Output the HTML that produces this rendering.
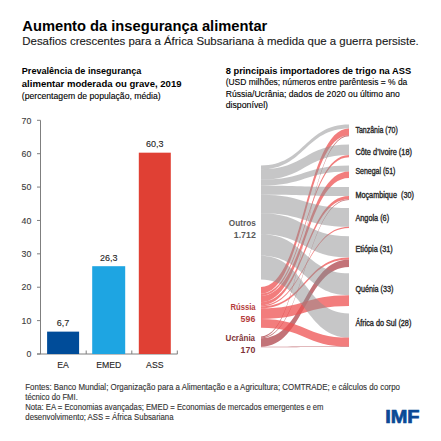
<!DOCTYPE html>
<html><head><meta charset="utf-8"><style>
html,body{margin:0;padding:0;background:#fff;width:441px;height:441px;overflow:hidden}
svg{display:block}
text{font-family:"Liberation Sans",sans-serif}
</style></head><body>
<svg width="441" height="441" viewBox="0 0 441 441">
<rect width="441" height="441" fill="#fff"/>
<text x="22.3" y="30.9" font-size="14.0" font-weight="bold" fill="#000" text-anchor="start" textLength="245" lengthAdjust="spacingAndGlyphs">Aumento da insegurança alimentar</text>
<text x="22.3" y="45.4" font-size="11.0" font-weight="normal" fill="#1a1a1a" text-anchor="start" textLength="396.5" lengthAdjust="spacingAndGlyphs" stroke="#1a1a1a" stroke-width="0.12">Desafios crescentes para a África Subsariana à medida que a guerra persiste.</text>
<text x="21.8" y="74.0" font-size="9.2" font-weight="bold" fill="#000" text-anchor="start" textLength="119.6" lengthAdjust="spacingAndGlyphs">Prevalência de insegurança</text>
<text x="21.8" y="87.2" font-size="9.2" font-weight="bold" fill="#000" text-anchor="start" textLength="159.7" lengthAdjust="spacingAndGlyphs">alimentar moderada ou grave, 2019</text>
<text x="21.8" y="99.3" font-size="8.8" font-weight="normal" fill="#000" text-anchor="start" textLength="138.9" lengthAdjust="spacingAndGlyphs" stroke="#000" stroke-width="0.12">(percentagem de população, média)</text>
<text x="225.7" y="74.0" font-size="9.2" font-weight="bold" fill="#000" text-anchor="start" textLength="185.5" lengthAdjust="spacingAndGlyphs">8 principais importadores de trigo na ASS</text>
<text x="225.7" y="85.0" font-size="8.8" font-weight="normal" fill="#000" text-anchor="start" textLength="181.6" lengthAdjust="spacingAndGlyphs" stroke="#000" stroke-width="0.12">(USD milhões; números entre parêntesis = % da</text>
<text x="225.7" y="96.8" font-size="8.8" font-weight="normal" fill="#000" text-anchor="start" textLength="174.1" lengthAdjust="spacingAndGlyphs" stroke="#000" stroke-width="0.12">Rússia/Ucrânia; dados de 2020 ou último ano</text>
<text x="225.7" y="107.6" font-size="8.8" font-weight="normal" fill="#000" text-anchor="start" textLength="42.3" lengthAdjust="spacingAndGlyphs" stroke="#000" stroke-width="0.12">disponível)</text>
<line x1="40.5" y1="120.3" x2="40.5" y2="354.0" stroke="#7f7f7f" stroke-width="1"/>
<line x1="37" y1="354.0" x2="177.5" y2="354.0" stroke="#7f7f7f" stroke-width="1"/>
<line x1="37" y1="354.00" x2="40.5" y2="354.00" stroke="#7f7f7f" stroke-width="1"/>
<text x="31.3" y="357.2" font-size="8.8" font-weight="normal" fill="#404040" text-anchor="end" stroke="#404040" stroke-width="0.12">0</text>
<line x1="37" y1="320.61" x2="40.5" y2="320.61" stroke="#7f7f7f" stroke-width="1"/>
<text x="31.3" y="323.8142857142857" font-size="8.8" font-weight="normal" fill="#404040" text-anchor="end" stroke="#404040" stroke-width="0.12">10</text>
<line x1="37" y1="287.23" x2="40.5" y2="287.23" stroke="#7f7f7f" stroke-width="1"/>
<text x="31.3" y="290.4285714285714" font-size="8.8" font-weight="normal" fill="#404040" text-anchor="end" stroke="#404040" stroke-width="0.12">20</text>
<line x1="37" y1="253.84" x2="40.5" y2="253.84" stroke="#7f7f7f" stroke-width="1"/>
<text x="31.3" y="257.04285714285714" font-size="8.8" font-weight="normal" fill="#404040" text-anchor="end" stroke="#404040" stroke-width="0.12">30</text>
<line x1="37" y1="220.46" x2="40.5" y2="220.46" stroke="#7f7f7f" stroke-width="1"/>
<text x="31.3" y="223.65714285714284" font-size="8.8" font-weight="normal" fill="#404040" text-anchor="end" stroke="#404040" stroke-width="0.12">40</text>
<line x1="37" y1="187.07" x2="40.5" y2="187.07" stroke="#7f7f7f" stroke-width="1"/>
<text x="31.3" y="190.27142857142857" font-size="8.8" font-weight="normal" fill="#404040" text-anchor="end" stroke="#404040" stroke-width="0.12">50</text>
<line x1="37" y1="153.69" x2="40.5" y2="153.69" stroke="#7f7f7f" stroke-width="1"/>
<text x="31.3" y="156.88571428571427" font-size="8.8" font-weight="normal" fill="#404040" text-anchor="end" stroke="#404040" stroke-width="0.12">60</text>
<line x1="37" y1="120.30" x2="40.5" y2="120.30" stroke="#7f7f7f" stroke-width="1"/>
<text x="31.3" y="123.50000000000001" font-size="8.8" font-weight="normal" fill="#404040" text-anchor="end" stroke="#404040" stroke-width="0.12">70</text>
<line x1="86.2" y1="350.5" x2="86.2" y2="354.0" stroke="#7f7f7f" stroke-width="1"/>
<line x1="131.8" y1="350.5" x2="131.8" y2="354.0" stroke="#7f7f7f" stroke-width="1"/>
<line x1="177.3" y1="350.5" x2="177.3" y2="354.0" stroke="#7f7f7f" stroke-width="1"/>
<rect x="47.1" y="331.63" width="32" height="22.37" fill="#004c99"/>
<text x="63.1" y="326.1315714285714" font-size="9.0" font-weight="normal" fill="#262626" text-anchor="middle" stroke="#262626" stroke-width="0.12">6,7</text>
<text x="63.1" y="367.6" font-size="8.7" font-weight="normal" fill="#262626" text-anchor="middle" stroke="#262626" stroke-width="0.12">EA</text>
<rect x="92.2" y="266.20" width="33" height="87.80" fill="#1ea5e2"/>
<text x="108.7" y="260.69557142857144" font-size="9.0" font-weight="normal" fill="#262626" text-anchor="middle" stroke="#262626" stroke-width="0.12">26,3</text>
<text x="108.7" y="367.6" font-size="8.7" font-weight="normal" fill="#262626" text-anchor="middle" stroke="#262626" stroke-width="0.12">EMED</text>
<rect x="138.8" y="152.68" width="32" height="201.32" fill="#e04034"/>
<text x="154.8" y="147.18414285714286" font-size="9.0" font-weight="normal" fill="#262626" text-anchor="middle" stroke="#262626" stroke-width="0.12">60,3</text>
<text x="154.8" y="367.6" font-size="8.7" font-weight="normal" fill="#262626" text-anchor="middle" stroke="#262626" stroke-width="0.12">ASS</text>
<g><path d="M261.0,165.40 C305.0,165.40 305.0,124.50 349.0,124.50 L349.0,128.50 C305.0,128.50 305.0,169.34 261.0,169.34 Z" fill="#8d8d8f" fill-opacity="0.5"/>
<path d="M261.0,287.00 C305.0,287.00 305.0,128.50 349.0,128.50 L349.0,135.30 C305.0,135.30 305.0,293.64 261.0,293.64 Z" fill="#ee5252" fill-opacity="0.75"/>
<path d="M261.0,336.40 C305.0,336.40 305.0,135.30 349.0,135.30 L349.0,136.30 C305.0,136.30 305.0,337.52 261.0,337.52 Z" fill="#af444b" fill-opacity="0.75"/>
<path d="M261.0,169.34 C305.0,169.34 305.0,144.50 349.0,144.50 L349.0,154.90 C305.0,154.90 305.0,179.60 261.0,179.60 Z" fill="#8d8d8f" fill-opacity="0.5"/>
<path d="M261.0,293.64 C305.0,293.64 305.0,154.90 349.0,154.90 L349.0,157.20 C305.0,157.20 305.0,295.88 261.0,295.88 Z" fill="#ee5252" fill-opacity="0.75"/>
<path d="M261.0,179.60 C305.0,179.60 305.0,165.40 349.0,165.40 L349.0,171.60 C305.0,171.60 305.0,185.72 261.0,185.72 Z" fill="#8d8d8f" fill-opacity="0.5"/>
<path d="M261.0,295.88 C305.0,295.88 305.0,171.60 349.0,171.60 L349.0,178.00 C305.0,178.00 305.0,302.13 261.0,302.13 Z" fill="#ee5252" fill-opacity="0.75"/>
<path d="M261.0,185.72 C305.0,185.72 305.0,187.00 349.0,187.00 L349.0,196.10 C305.0,196.10 305.0,194.69 261.0,194.69 Z" fill="#8d8d8f" fill-opacity="0.5"/>
<path d="M261.0,302.13 C305.0,302.13 305.0,196.10 349.0,196.10 L349.0,199.30 C305.0,199.30 305.0,305.25 261.0,305.25 Z" fill="#ee5252" fill-opacity="0.75"/>
<path d="M261.0,337.52 C305.0,337.52 305.0,199.30 349.0,199.30 L349.0,200.00 C305.0,200.00 305.0,338.31 261.0,338.31 Z" fill="#af444b" fill-opacity="0.75"/>
<path d="M261.0,194.69 C305.0,194.69 305.0,208.00 349.0,208.00 L349.0,226.80 C305.0,226.80 305.0,213.23 261.0,213.23 Z" fill="#8d8d8f" fill-opacity="0.5"/>
<path d="M261.0,305.25 C305.0,305.25 305.0,226.80 349.0,226.80 L349.0,228.00 C305.0,228.00 305.0,306.42 261.0,306.42 Z" fill="#ee5252" fill-opacity="0.75"/>
<path d="M261.0,213.23 C305.0,213.23 305.0,236.30 349.0,236.30 L349.0,257.50 C305.0,257.50 305.0,234.14 261.0,234.14 Z" fill="#8d8d8f" fill-opacity="0.5"/>
<path d="M261.0,306.42 C305.0,306.42 305.0,257.50 349.0,257.50 L349.0,259.50 C305.0,259.50 305.0,308.37 261.0,308.37 Z" fill="#ee5252" fill-opacity="0.75"/>
<path d="M261.0,338.31 C305.0,338.31 305.0,259.50 349.0,259.50 L349.0,267.00 C305.0,267.00 305.0,346.75 261.0,346.75 Z" fill="#af444b" fill-opacity="0.75"/>
<path d="M261.0,234.14 C305.0,234.14 305.0,273.30 349.0,273.30 L349.0,295.20 C305.0,295.20 305.0,255.73 261.0,255.73 Z" fill="#8d8d8f" fill-opacity="0.5"/>
<path d="M261.0,308.37 C305.0,308.37 305.0,295.20 349.0,295.20 L349.0,306.00 C305.0,306.00 305.0,318.92 261.0,318.92 Z" fill="#ee5252" fill-opacity="0.75"/>
<path d="M261.0,255.73 C305.0,255.73 305.0,313.50 349.0,313.50 L349.0,337.60 C305.0,337.60 305.0,279.50 261.0,279.50 Z" fill="#8d8d8f" fill-opacity="0.5"/>
<path d="M261.0,318.92 C305.0,318.92 305.0,337.60 349.0,337.60 L349.0,346.60 C305.0,346.60 305.0,327.70 261.0,327.70 Z" fill="#ee5252" fill-opacity="0.75"/>
<path d="M261.0,346.75 C305.0,346.75 305.0,346.60 349.0,346.60 L349.0,347.00 C305.0,347.00 305.0,347.20 261.0,347.20 Z" fill="#af444b" fill-opacity="0.75"/></g>
<text x="228.8" y="225.9" font-size="8.8" font-weight="bold" fill="#595959" text-anchor="start" textLength="27.0" lengthAdjust="spacingAndGlyphs">Outros</text>
<text x="255.8" y="237.8" font-size="8.8" font-weight="bold" fill="#595959" text-anchor="end">1.712</text>
<text x="230.4" y="309.8" font-size="8.8" font-weight="bold" fill="#b53d3d" text-anchor="start" textLength="25.2" lengthAdjust="spacingAndGlyphs">Rússia</text>
<text x="255.3" y="321.8" font-size="8.8" font-weight="bold" fill="#b53d3d" text-anchor="end">596</text>
<text x="225.6" y="341.0" font-size="8.8" font-weight="bold" fill="#7f3337" text-anchor="start" textLength="29.5" lengthAdjust="spacingAndGlyphs">Ucrânia</text>
<text x="255.3" y="352.5" font-size="8.8" font-weight="bold" fill="#7f3337" text-anchor="end">170</text>
<text x="355.4" y="132.7" font-size="8.4" font-weight="normal" fill="#262626" text-anchor="start" textLength="42.4" lengthAdjust="spacingAndGlyphs" xml:space="preserve" stroke="#262626" stroke-width="0.35">Tanzânia (70)</text>
<text x="355.4" y="154.5" font-size="8.4" font-weight="normal" fill="#262626" text-anchor="start" textLength="56.6" lengthAdjust="spacingAndGlyphs" xml:space="preserve" stroke="#262626" stroke-width="0.35">Côte d’Ivoire (18)</text>
<text x="355.4" y="173.5" font-size="8.4" font-weight="normal" fill="#262626" text-anchor="start" textLength="40.0" lengthAdjust="spacingAndGlyphs" xml:space="preserve" stroke="#262626" stroke-width="0.35">Senegal (51)</text>
<text x="355.4" y="197.9" font-size="8.4" font-weight="normal" fill="#262626" text-anchor="start" textLength="58.5" lengthAdjust="spacingAndGlyphs" xml:space="preserve" stroke="#262626" stroke-width="0.35">Moçambique  (30)</text>
<text x="355.4" y="221.0" font-size="8.4" font-weight="normal" fill="#262626" text-anchor="start" textLength="33.7" lengthAdjust="spacingAndGlyphs" xml:space="preserve" stroke="#262626" stroke-width="0.35">Angola (6)</text>
<text x="355.4" y="251.8" font-size="8.4" font-weight="normal" fill="#262626" text-anchor="start" textLength="37.3" lengthAdjust="spacingAndGlyphs" xml:space="preserve" stroke="#262626" stroke-width="0.35">Etiópia (31)</text>
<text x="355.4" y="291.9" font-size="8.4" font-weight="normal" fill="#262626" text-anchor="start" textLength="38.0" lengthAdjust="spacingAndGlyphs" xml:space="preserve" stroke="#262626" stroke-width="0.35">Quénia (33)</text>
<text x="355.4" y="326.3" font-size="8.4" font-weight="normal" fill="#262626" text-anchor="start" textLength="55.9" lengthAdjust="spacingAndGlyphs" xml:space="preserve" stroke="#262626" stroke-width="0.35">África do Sul (28)</text>
<text x="25.3" y="390.0" font-size="8.2" font-weight="normal" fill="#333" text-anchor="start" textLength="374.7" lengthAdjust="spacingAndGlyphs" stroke="#333" stroke-width="0.12">Fontes: Banco Mundial; Organização para a Alimentação e a Agricultura; COMTRADE; e cálculos do corpo</text>
<text x="25.3" y="399.6" font-size="8.2" font-weight="normal" fill="#333" text-anchor="start" textLength="52.5" lengthAdjust="spacingAndGlyphs" stroke="#333" stroke-width="0.12">técnico do FMI.</text>
<text x="25.3" y="409.8" font-size="8.2" font-weight="normal" fill="#333" text-anchor="start" textLength="298.2" lengthAdjust="spacingAndGlyphs" stroke="#333" stroke-width="0.12">Nota: EA = Economias avançadas; EMED = Economias de mercados emergentes e em</text>
<text x="25.3" y="419.5" font-size="8.2" font-weight="normal" fill="#333" text-anchor="start" textLength="148.2" lengthAdjust="spacingAndGlyphs" stroke="#333" stroke-width="0.12">desenvolvimento; ASS = África Subsariana</text>
<text x="385.2" y="423.4" font-size="18.0" font-weight="bold" fill="#0a4a96" text-anchor="start" textLength="34.4" lengthAdjust="spacingAndGlyphs" stroke="#0a4a96" stroke-width="0.7">IMF</text>
</svg>
</body></html>
